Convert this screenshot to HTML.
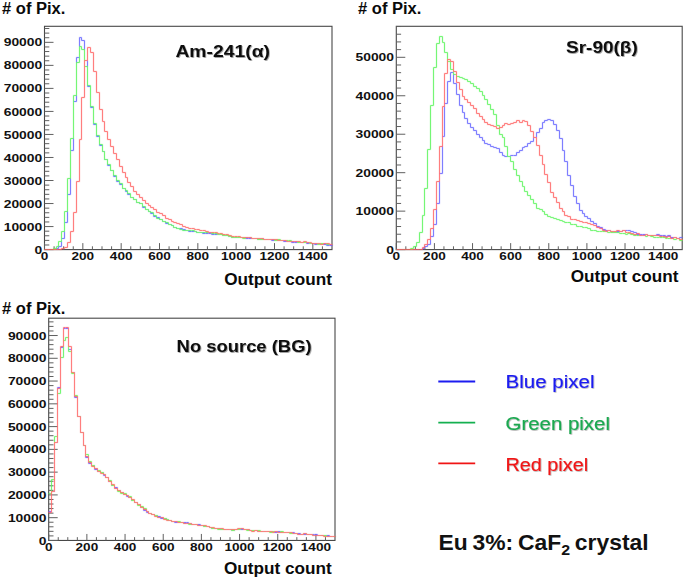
<!DOCTYPE html>
<html><head><meta charset="utf-8"><title>Eu 3%: CaF2 crystal</title>
<style>
html,body{margin:0;padding:0;background:#fff;}
body{width:685px;height:579px;overflow:hidden;position:relative;font-family:"Liberation Sans",sans-serif;}
svg{position:absolute;left:0;top:0;display:block}
.al{font:bold 11.6px "Liberation Sans",sans-serif;fill:#111}
.tt{font:bold 17.4px "Liberation Sans",sans-serif;fill:#111}
.yl{font:bold 16.8px "Liberation Sans",sans-serif;fill:#0a0a0a}
.lg{font:19.2px "Liberation Sans",sans-serif;stroke-width:.16px;paint-order:stroke}
.cap{font:bold 21.5px "Liberation Sans",sans-serif;fill:#111;word-spacing:-1.5px}
</style></head><body>
<svg width="685" height="579" viewBox="0 0 685 579">
<defs><filter id="sh" x="-5%" y="-20%" width="110%" height="150%"><feDropShadow dx="0.7" dy="0.7" stdDeviation="0.5" flood-color="#000" flood-opacity="0.35"/></filter><filter id="sh2" x="-5%" y="-20%" width="110%" height="150%"><feDropShadow dx="0.8" dy="0.9" stdDeviation="0.6" flood-color="#000" flood-opacity="0.4"/></filter><filter id="bl" filterUnits="userSpaceOnUse" x="0" y="0" width="685" height="579"><feConvolveMatrix order="3" kernelMatrix="1 9 1 9 81 9 1 9 1" divisor="121" edgeMode="none" preserveAlpha="false"/></filter></defs>
<rect width="685" height="579" fill="#fff"/>
<g><rect x="44.5" y="26.3" width="287.50" height="223.30" fill="none" stroke="#484848" stroke-width="1.1"/>
<path d="M44.50,249.6v-6.5M54.08,249.6v-3.3M63.67,249.6v-3.3M73.25,249.6v-3.3M82.83,249.6v-6.5M92.42,249.6v-3.3M102.00,249.6v-3.3M111.58,249.6v-3.3M121.17,249.6v-6.5M130.75,249.6v-3.3M140.33,249.6v-3.3M149.92,249.6v-3.3M159.50,249.6v-6.5M169.08,249.6v-3.3M178.67,249.6v-3.3M188.25,249.6v-3.3M197.83,249.6v-6.5M207.42,249.6v-3.3M217.00,249.6v-3.3M226.58,249.6v-3.3M236.17,249.6v-6.5M245.75,249.6v-3.3M255.33,249.6v-3.3M264.92,249.6v-3.3M274.50,249.6v-6.5M284.08,249.6v-3.3M293.67,249.6v-3.3M303.25,249.6v-3.3M312.83,249.6v-6.5M322.42,249.6v-3.3M44.5,249.60h9M44.5,244.99h4.8M44.5,240.39h4.8M44.5,235.78h4.8M44.5,231.18h4.8M44.5,226.57h9M44.5,221.96h4.8M44.5,217.36h4.8M44.5,212.75h4.8M44.5,208.15h4.8M44.5,203.54h9M44.5,198.93h4.8M44.5,194.33h4.8M44.5,189.72h4.8M44.5,185.12h4.8M44.5,180.51h9M44.5,175.90h4.8M44.5,171.30h4.8M44.5,166.69h4.8M44.5,162.09h4.8M44.5,157.48h9M44.5,152.87h4.8M44.5,148.27h4.8M44.5,143.66h4.8M44.5,139.06h4.8M44.5,134.45h9M44.5,129.84h4.8M44.5,125.24h4.8M44.5,120.63h4.8M44.5,116.03h4.8M44.5,111.42h9M44.5,106.81h4.8M44.5,102.21h4.8M44.5,97.60h4.8M44.5,93.00h4.8M44.5,88.39h9M44.5,83.78h4.8M44.5,79.18h4.8M44.5,74.57h4.8M44.5,69.97h4.8M44.5,65.36h9M44.5,60.75h4.8M44.5,56.15h4.8M44.5,51.54h4.8M44.5,46.94h4.8M44.5,42.33h9M44.5,37.72h4.8M44.5,33.12h4.8M44.5,28.51h4.8" fill="none" stroke="#606060" stroke-width="1"/>
<g filter="url(#bl)">
<path d="M44.5,249.5V249.5H47.5V249.5H50.5V249.5H53.5V249.5H56.5V248.5H58.5V246.5H61.5V238.5H64.5V222.5H67.5V194.5H70.5V150.5H73.5V101.5H76.5V57.5H79.5V37.5H81.5V40.5H84.5V60.5H87.5V86.5H90.5V107.5H93.5V124.5H96.5V136.5H99.5V145.5H102.5V151.5H104.5V159.5H107.5V165.5H110.5V170.5H113.5V176.5H116.5V181.5H119.5V184.5H122.5V188.5H125.5V191.5H127.5V194.5H130.5V197.5H133.5V199.5H136.5V202.5H139.5V203.5H142.5V207.5H145.5V209.5H148.5V211.5H150.5V213.5H153.5V216.5H156.5V217.5H159.5V219.5H162.5V221.5H165.5V223.5H168.5V224.5H171.5V225.5H173.5V227.5H176.5V228.5H179.5V228.5H182.5V229.5H185.5V230.5H188.5V231.5H191.5V231.5H194.5V231.5H196.5V232.5H199.5V232.5H202.5V233.5H205.5V233.5H208.5V233.5H211.5V234.5H214.5V234.5H217.5V234.5H219.5V234.5H222.5V235.5H225.5V235.5H228.5V236.5H231.5V237.5H234.5V237.5H237.5V237.5H240.5V237.5H242.5V237.5H245.5V238.5H248.5V238.5H251.5V238.5H254.5V238.5H257.5V239.5H260.5V238.5H263.5V239.5H265.5V239.5H268.5V239.5H271.5V240.5H274.5V239.5H277.5V240.5H280.5V240.5H283.5V241.5H286.5V241.5H288.5V241.5H291.5V242.5H294.5V242.5H297.5V242.5H300.5V242.5H303.5V242.5H306.5V243.5H309.5V243.5H311.5V243.5H314.5V244.5H317.5V244.5H320.5V244.5H323.5V244.5H326.5V245.5H329.5V245.5H332.5" fill="none" stroke="#6060ff" stroke-width="1" stroke-linejoin="miter"/>
<path d="M44.5,249.5V249.5H47.5V249.5H50.5V249.5H53.5V248.5H56.5V246.5H58.5V241.5H61.5V231.5H64.5V211.5H67.5V178.5H70.5V138.5H73.5V95.5H76.5V62.5H79.5V46.5H81.5V49.5H84.5V66.5H87.5V85.5H90.5V106.5H93.5V123.5H96.5V135.5H99.5V144.5H102.5V151.5H104.5V159.5H107.5V164.5H110.5V170.5H113.5V175.5H116.5V180.5H119.5V183.5H122.5V188.5H125.5V190.5H127.5V193.5H130.5V197.5H133.5V199.5H136.5V202.5H139.5V203.5H142.5V206.5H145.5V209.5H148.5V211.5H150.5V212.5H153.5V215.5H156.5V218.5H159.5V219.5H162.5V221.5H165.5V222.5H168.5V224.5H171.5V225.5H173.5V227.5H176.5V228.5H179.5V229.5H182.5V230.5H185.5V230.5H188.5V230.5H191.5V230.5H194.5V231.5H196.5V232.5H199.5V232.5H202.5V232.5H205.5V232.5H208.5V232.5H211.5V233.5H214.5V233.5H217.5V234.5H219.5V234.5H222.5V235.5H225.5V235.5H228.5V236.5H231.5V237.5H234.5V237.5H237.5V237.5H240.5V237.5H242.5V238.5H245.5V237.5H248.5V237.5H251.5V238.5H254.5V238.5H257.5V239.5H260.5V239.5H263.5V239.5H265.5V239.5H268.5V239.5H271.5V239.5H274.5V240.5H277.5V239.5H280.5V240.5H283.5V240.5H286.5V240.5H288.5V240.5H291.5V241.5H294.5V241.5H297.5V242.5H300.5V242.5H303.5V242.5H306.5V242.5H309.5V243.5H311.5V243.5H314.5V243.5H317.5V244.5H320.5V243.5H323.5V243.5H326.5V244.5H329.5V244.5H332.5" fill="none" stroke="#58f458" stroke-width="1" stroke-linejoin="miter"/>
<path d="M44.5,249.5V249.5H47.5V249.5H50.5V249.5H53.5V249.5H56.5V249.5H58.5V249.5H61.5V248.5H64.5V247.5H67.5V242.5H70.5V231.5H73.5V212.5H76.5V181.5H79.5V139.5H81.5V97.5H84.5V60.5H87.5V47.5H90.5V52.5H93.5V71.5H96.5V92.5H99.5V109.5H102.5V121.5H104.5V131.5H107.5V139.5H110.5V146.5H113.5V153.5H116.5V159.5H119.5V166.5H122.5V172.5H125.5V177.5H127.5V182.5H130.5V186.5H133.5V191.5H136.5V194.5H139.5V197.5H142.5V200.5H145.5V203.5H148.5V205.5H150.5V207.5H153.5V209.5H156.5V212.5H159.5V213.5H162.5V215.5H165.5V218.5H168.5V219.5H171.5V221.5H173.5V222.5H176.5V223.5H179.5V224.5H182.5V226.5H185.5V227.5H188.5V228.5H191.5V228.5H194.5V229.5H196.5V229.5H199.5V230.5H202.5V230.5H205.5V231.5H208.5V232.5H211.5V232.5H214.5V232.5H217.5V233.5H219.5V233.5H222.5V234.5H225.5V234.5H228.5V235.5H231.5V236.5H234.5V236.5H237.5V236.5H240.5V237.5H242.5V237.5H245.5V237.5H248.5V237.5H251.5V238.5H254.5V238.5H257.5V238.5H260.5V238.5H263.5V239.5H265.5V239.5H268.5V239.5H271.5V239.5H274.5V239.5H277.5V240.5H280.5V240.5H283.5V240.5H286.5V241.5H288.5V241.5H291.5V241.5H294.5V241.5H297.5V241.5H300.5V242.5H303.5V241.5H306.5V242.5H309.5V242.5H311.5V243.5H314.5V243.5H317.5V243.5H320.5V244.5H323.5V243.5H326.5V243.5H329.5V244.5H332.5" fill="none" stroke="#ff6060" stroke-width="1" stroke-linejoin="miter"/>
</g>
<text class="al" transform="translate(44.50,260.20) scale(1.17,1)" text-anchor="middle">0</text>
<text class="al" transform="translate(82.83,260.20) scale(1.17,1)" text-anchor="middle">200</text>
<text class="al" transform="translate(121.17,260.20) scale(1.17,1)" text-anchor="middle">400</text>
<text class="al" transform="translate(159.50,260.20) scale(1.17,1)" text-anchor="middle">600</text>
<text class="al" transform="translate(197.83,260.20) scale(1.17,1)" text-anchor="middle">800</text>
<text class="al" transform="translate(236.17,260.20) scale(1.17,1)" text-anchor="middle">1000</text>
<text class="al" transform="translate(274.50,260.20) scale(1.17,1)" text-anchor="middle">1200</text>
<text class="al" transform="translate(312.83,260.20) scale(1.17,1)" text-anchor="middle">1400</text>
<text class="al" transform="translate(42.20,253.70) scale(1.195,1)" text-anchor="end">0</text>
<text class="al" transform="translate(42.20,230.67) scale(1.195,1)" text-anchor="end">10000</text>
<text class="al" transform="translate(42.20,207.64) scale(1.195,1)" text-anchor="end">20000</text>
<text class="al" transform="translate(42.20,184.61) scale(1.195,1)" text-anchor="end">30000</text>
<text class="al" transform="translate(42.20,161.58) scale(1.195,1)" text-anchor="end">40000</text>
<text class="al" transform="translate(42.20,138.55) scale(1.195,1)" text-anchor="end">50000</text>
<text class="al" transform="translate(42.20,115.52) scale(1.195,1)" text-anchor="end">60000</text>
<text class="al" transform="translate(42.20,92.49) scale(1.195,1)" text-anchor="end">70000</text>
<text class="al" transform="translate(42.20,69.46) scale(1.195,1)" text-anchor="end">80000</text>
<text class="al" transform="translate(42.20,46.43) scale(1.195,1)" text-anchor="end">90000</text>
<text class="tt" x="175.4" y="57.4" textLength="94.6" lengthAdjust="spacingAndGlyphs" filter="url(#sh2)">Am-241(α)</text>
<text class="yl" x="2" y="14.4" textLength="63.4" lengthAdjust="spacingAndGlyphs"># of Pix.</text>
<text class="yl" x="224.2" y="285.1" textLength="107.8" lengthAdjust="spacingAndGlyphs">Output count</text></g>
<g><rect x="396.3" y="26.3" width="285.90" height="223.30" fill="none" stroke="#484848" stroke-width="1.1"/>
<path d="M396.30,249.6v-6.5M405.83,249.6v-3.3M415.36,249.6v-3.3M424.89,249.6v-3.3M434.42,249.6v-6.5M443.95,249.6v-3.3M453.48,249.6v-3.3M463.01,249.6v-3.3M472.54,249.6v-6.5M482.07,249.6v-3.3M491.60,249.6v-3.3M501.13,249.6v-3.3M510.66,249.6v-6.5M520.19,249.6v-3.3M529.72,249.6v-3.3M539.25,249.6v-3.3M548.78,249.6v-6.5M558.31,249.6v-3.3M567.84,249.6v-3.3M577.37,249.6v-3.3M586.90,249.6v-6.5M596.43,249.6v-3.3M605.96,249.6v-3.3M615.49,249.6v-3.3M625.02,249.6v-6.5M634.55,249.6v-3.3M644.08,249.6v-3.3M653.61,249.6v-3.3M663.14,249.6v-6.5M672.67,249.6v-3.3M396.3,249.60h9M396.3,241.91h4.8M396.3,234.22h4.8M396.3,226.52h4.8M396.3,218.83h4.8M396.3,211.14h9M396.3,203.45h4.8M396.3,195.76h4.8M396.3,188.06h4.8M396.3,180.37h4.8M396.3,172.68h9M396.3,164.99h4.8M396.3,157.30h4.8M396.3,149.60h4.8M396.3,141.91h4.8M396.3,134.22h9M396.3,126.53h4.8M396.3,118.84h4.8M396.3,111.14h4.8M396.3,103.45h4.8M396.3,95.76h9M396.3,88.07h4.8M396.3,80.38h4.8M396.3,72.68h4.8M396.3,64.99h4.8M396.3,57.30h9M396.3,49.61h4.8M396.3,41.92h4.8M396.3,34.22h4.8M396.3,26.53h4.8" fill="none" stroke="#606060" stroke-width="1"/>
<g filter="url(#bl)">
<path d="M396.5,249.5V249.5H399.5V249.5H402.5V249.5H404.5V249.5H407.5V249.5H410.5V249.5H413.5V249.5H416.5V249.5H419.5V249.5H422.5V248.5H424.5V246.5H427.5V244.5H430.5V236.5H433.5V224.5H436.5V203.5H439.5V173.5H442.5V136.5H444.5V103.5H447.5V81.5H450.5V72.5H453.5V83.5H456.5V94.5H459.5V105.5H462.5V112.5H464.5V118.5H467.5V123.5H470.5V127.5H473.5V130.5H476.5V134.5H479.5V137.5H482.5V140.5H484.5V143.5H487.5V144.5H490.5V146.5H493.5V147.5H496.5V148.5H499.5V152.5H502.5V155.5H504.5V156.5H507.5V156.5H510.5V155.5H513.5V155.5H516.5V152.5H519.5V150.5H522.5V147.5H524.5V146.5H527.5V143.5H530.5V141.5H533.5V137.5H536.5V132.5H539.5V128.5H542.5V122.5H544.5V120.5H547.5V119.5H550.5V120.5H553.5V124.5H556.5V130.5H559.5V138.5H562.5V150.5H564.5V161.5H567.5V175.5H570.5V185.5H573.5V196.5H576.5V203.5H579.5V210.5H582.5V213.5H584.5V216.5H587.5V218.5H590.5V221.5H593.5V223.5H596.5V226.5H599.5V227.5H602.5V229.5H605.5V230.5H607.5V230.5H610.5V231.5H613.5V232.5H616.5V231.5H619.5V231.5H622.5V230.5H625.5V230.5H627.5V230.5H630.5V231.5H633.5V232.5H636.5V234.5H639.5V234.5H642.5V234.5H645.5V234.5H647.5V235.5H650.5V235.5H653.5V235.5H656.5V234.5H659.5V235.5H662.5V235.5H665.5V236.5H667.5V235.5H670.5V237.5H673.5V237.5H676.5V238.5H679.5V237.5H682.5" fill="none" stroke="#6060ff" stroke-width="1" stroke-linejoin="miter"/>
<path d="M396.5,249.5V249.5H399.5V249.5H402.5V249.5H404.5V249.5H407.5V249.5H410.5V248.5H413.5V246.5H416.5V242.5H419.5V232.5H422.5V215.5H424.5V188.5H427.5V149.5H430.5V105.5H433.5V67.5H436.5V43.5H439.5V36.5H442.5V42.5H444.5V52.5H447.5V61.5H450.5V69.5H453.5V74.5H456.5V76.5H459.5V77.5H462.5V78.5H464.5V79.5H467.5V81.5H470.5V83.5H473.5V86.5H476.5V88.5H479.5V91.5H482.5V95.5H484.5V99.5H487.5V104.5H490.5V109.5H493.5V114.5H496.5V125.5H499.5V134.5H502.5V137.5H504.5V146.5H507.5V156.5H510.5V161.5H513.5V169.5H516.5V175.5H519.5V181.5H522.5V186.5H524.5V191.5H527.5V195.5H530.5V199.5H533.5V203.5H536.5V208.5H539.5V209.5H542.5V211.5H544.5V214.5H547.5V216.5H550.5V217.5H553.5V218.5H556.5V219.5H559.5V220.5H562.5V221.5H564.5V222.5H567.5V222.5H570.5V224.5H573.5V224.5H576.5V226.5H579.5V226.5H582.5V227.5H584.5V227.5H587.5V228.5H590.5V230.5H593.5V230.5H596.5V231.5H599.5V231.5H602.5V231.5H605.5V231.5H607.5V232.5H610.5V232.5H613.5V232.5H616.5V232.5H619.5V233.5H622.5V233.5H625.5V234.5H627.5V233.5H630.5V234.5H633.5V235.5H636.5V235.5H639.5V235.5H642.5V235.5H645.5V236.5H647.5V235.5H650.5V236.5H653.5V237.5H656.5V237.5H659.5V237.5H662.5V237.5H665.5V238.5H667.5V238.5H670.5V238.5H673.5V239.5H676.5V238.5H679.5V240.5H682.5" fill="none" stroke="#58f458" stroke-width="1" stroke-linejoin="miter"/>
<path d="M396.5,249.5V249.5H399.5V249.5H402.5V249.5H404.5V249.5H407.5V249.5H410.5V249.5H413.5V249.5H416.5V249.5H419.5V249.5H422.5V247.5H424.5V244.5H427.5V239.5H430.5V228.5H433.5V209.5H436.5V181.5H439.5V146.5H442.5V106.5H444.5V73.5H447.5V59.5H450.5V61.5H453.5V71.5H456.5V82.5H459.5V89.5H462.5V96.5H464.5V99.5H467.5V102.5H470.5V105.5H473.5V108.5H476.5V113.5H479.5V116.5H482.5V119.5H484.5V122.5H487.5V124.5H490.5V125.5H493.5V126.5H496.5V128.5H499.5V127.5H502.5V125.5H504.5V123.5H507.5V124.5H510.5V123.5H513.5V122.5H516.5V120.5H519.5V122.5H522.5V120.5H524.5V121.5H527.5V125.5H530.5V131.5H533.5V137.5H536.5V145.5H539.5V155.5H542.5V164.5H544.5V174.5H547.5V182.5H550.5V192.5H553.5V197.5H556.5V202.5H559.5V208.5H562.5V211.5H564.5V215.5H567.5V216.5H570.5V219.5H573.5V219.5H576.5V220.5H579.5V221.5H582.5V222.5H584.5V222.5H587.5V223.5H590.5V224.5H593.5V225.5H596.5V227.5H599.5V228.5H602.5V230.5H605.5V231.5H607.5V230.5H610.5V231.5H613.5V231.5H616.5V230.5H619.5V231.5H622.5V230.5H625.5V232.5H627.5V232.5H630.5V233.5H633.5V234.5H636.5V233.5H639.5V235.5H642.5V235.5H645.5V234.5H647.5V235.5H650.5V235.5H653.5V235.5H656.5V235.5H659.5V236.5H662.5V236.5H665.5V237.5H667.5V236.5H670.5V238.5H673.5V237.5H676.5V238.5H679.5V239.5H682.5" fill="none" stroke="#ff6060" stroke-width="1" stroke-linejoin="miter"/>
</g>
<text class="al" transform="translate(396.30,260.20) scale(1.17,1)" text-anchor="middle">0</text>
<text class="al" transform="translate(434.42,260.20) scale(1.17,1)" text-anchor="middle">200</text>
<text class="al" transform="translate(472.54,260.20) scale(1.17,1)" text-anchor="middle">400</text>
<text class="al" transform="translate(510.66,260.20) scale(1.17,1)" text-anchor="middle">600</text>
<text class="al" transform="translate(548.78,260.20) scale(1.17,1)" text-anchor="middle">800</text>
<text class="al" transform="translate(586.90,260.20) scale(1.17,1)" text-anchor="middle">1000</text>
<text class="al" transform="translate(625.02,260.20) scale(1.17,1)" text-anchor="middle">1200</text>
<text class="al" transform="translate(663.14,260.20) scale(1.17,1)" text-anchor="middle">1400</text>
<text class="al" transform="translate(394.00,253.70) scale(1.195,1)" text-anchor="end">0</text>
<text class="al" transform="translate(394.00,215.24) scale(1.195,1)" text-anchor="end">10000</text>
<text class="al" transform="translate(394.00,176.78) scale(1.195,1)" text-anchor="end">20000</text>
<text class="al" transform="translate(394.00,138.32) scale(1.195,1)" text-anchor="end">30000</text>
<text class="al" transform="translate(394.00,99.86) scale(1.195,1)" text-anchor="end">40000</text>
<text class="al" transform="translate(394.00,61.40) scale(1.195,1)" text-anchor="end">50000</text>
<text class="tt" x="566.0" y="53.0" textLength="71.8" lengthAdjust="spacingAndGlyphs" filter="url(#sh2)">Sr-90(β)</text>
<text class="yl" x="358" y="14.2" textLength="63.4" lengthAdjust="spacingAndGlyphs"># of Pix.</text>
<text class="yl" x="570.7" y="282.2" textLength="107.8" lengthAdjust="spacingAndGlyphs">Output count</text></g>
<g><rect x="48.7" y="318.2" width="286.30" height="222.25" fill="none" stroke="#484848" stroke-width="1.1"/>
<path d="M48.70,540.45v-6.5M58.24,540.45v-3.3M67.79,540.45v-3.3M77.33,540.45v-3.3M86.87,540.45v-6.5M96.42,540.45v-3.3M105.96,540.45v-3.3M115.50,540.45v-3.3M125.05,540.45v-6.5M134.59,540.45v-3.3M144.13,540.45v-3.3M153.68,540.45v-3.3M163.22,540.45v-6.5M172.76,540.45v-3.3M182.31,540.45v-3.3M191.85,540.45v-3.3M201.39,540.45v-6.5M210.94,540.45v-3.3M220.48,540.45v-3.3M230.02,540.45v-3.3M239.57,540.45v-6.5M249.11,540.45v-3.3M258.65,540.45v-3.3M268.20,540.45v-3.3M277.74,540.45v-6.5M287.28,540.45v-3.3M296.83,540.45v-3.3M306.37,540.45v-3.3M315.91,540.45v-6.5M325.46,540.45v-3.3M48.7,540.45h9M48.7,535.90h4.8M48.7,531.34h4.8M48.7,526.79h4.8M48.7,522.23h4.8M48.7,517.68h9M48.7,513.13h4.8M48.7,508.57h4.8M48.7,504.02h4.8M48.7,499.46h4.8M48.7,494.91h9M48.7,490.36h4.8M48.7,485.80h4.8M48.7,481.25h4.8M48.7,476.69h4.8M48.7,472.14h9M48.7,467.59h4.8M48.7,463.03h4.8M48.7,458.48h4.8M48.7,453.92h4.8M48.7,449.37h9M48.7,444.82h4.8M48.7,440.26h4.8M48.7,435.71h4.8M48.7,431.15h4.8M48.7,426.60h9M48.7,422.05h4.8M48.7,417.49h4.8M48.7,412.94h4.8M48.7,408.38h4.8M48.7,403.83h9M48.7,399.28h4.8M48.7,394.72h4.8M48.7,390.17h4.8M48.7,385.61h4.8M48.7,381.06h9M48.7,376.51h4.8M48.7,371.95h4.8M48.7,367.40h4.8M48.7,362.84h4.8M48.7,358.29h9M48.7,353.74h4.8M48.7,349.18h4.8M48.7,344.63h4.8M48.7,340.07h4.8M48.7,335.52h9M48.7,330.97h4.8M48.7,326.41h4.8M48.7,321.86h4.8" fill="none" stroke="#606060" stroke-width="1"/>
<g filter="url(#bl)">
<path d="M48.5,511.5V511.5H51.5V491.5H54.5V442.5H57.5V387.5H60.5V347.5H63.5V328.5H65.5V328.5H68.5V349.5H71.5V372.5H74.5V397.5H77.5V416.5H80.5V432.5H83.5V445.5H85.5V457.5H88.5V463.5H91.5V465.5H94.5V469.5H97.5V471.5H100.5V472.5H103.5V475.5H105.5V477.5H108.5V481.5H111.5V485.5H114.5V487.5H117.5V490.5H120.5V492.5H123.5V494.5H126.5V496.5H128.5V497.5H131.5V500.5H134.5V502.5H137.5V504.5H140.5V507.5H143.5V510.5H146.5V512.5H148.5V513.5H151.5V514.5H154.5V515.5H157.5V516.5H160.5V518.5H163.5V518.5H166.5V519.5H168.5V520.5H171.5V521.5H174.5V522.5H177.5V522.5H180.5V522.5H183.5V522.5H186.5V522.5H188.5V523.5H191.5V524.5H194.5V524.5H197.5V524.5H200.5V525.5H203.5V526.5H206.5V526.5H209.5V527.5H211.5V528.5H214.5V528.5H217.5V528.5H220.5V529.5H223.5V529.5H226.5V529.5H229.5V529.5H231.5V530.5H234.5V529.5H237.5V529.5H240.5V529.5H243.5V529.5H246.5V529.5H249.5V530.5H251.5V530.5H254.5V530.5H257.5V531.5H260.5V531.5H263.5V531.5H266.5V531.5H269.5V531.5H272.5V531.5H274.5V532.5H277.5V531.5H280.5V532.5H283.5V532.5H286.5V532.5H289.5V532.5H292.5V532.5H294.5V533.5H297.5V533.5H300.5V534.5H303.5V534.5H306.5V534.5H309.5V534.5H312.5V534.5H314.5V534.5H317.5V535.5H320.5V535.5H323.5V535.5H326.5V535.5H329.5V536.5H332.5V536.5H335.5" fill="none" stroke="#6060ff" stroke-width="1" stroke-linejoin="miter"/>
<path d="M48.5,493.5V493.5H51.5V479.5H54.5V436.5H57.5V393.5H60.5V357.5H63.5V340.5H65.5V337.5H68.5V351.5H71.5V373.5H74.5V395.5H77.5V416.5H80.5V432.5H83.5V445.5H85.5V454.5H88.5V461.5H91.5V465.5H94.5V468.5H97.5V470.5H100.5V472.5H103.5V474.5H105.5V477.5H108.5V480.5H111.5V485.5H114.5V488.5H117.5V491.5H120.5V493.5H123.5V493.5H126.5V495.5H128.5V496.5H131.5V500.5H134.5V502.5H137.5V505.5H140.5V506.5H143.5V508.5H146.5V511.5H148.5V513.5H151.5V514.5H154.5V515.5H157.5V517.5H160.5V517.5H163.5V518.5H166.5V519.5H168.5V520.5H171.5V521.5H174.5V521.5H177.5V521.5H180.5V522.5H183.5V523.5H186.5V523.5H188.5V524.5H191.5V524.5H194.5V524.5H197.5V525.5H200.5V525.5H203.5V526.5H206.5V526.5H209.5V527.5H211.5V528.5H214.5V528.5H217.5V529.5H220.5V529.5H223.5V529.5H226.5V529.5H229.5V529.5H231.5V530.5H234.5V529.5H237.5V529.5H240.5V528.5H243.5V529.5H246.5V530.5H249.5V530.5H251.5V530.5H254.5V530.5H257.5V530.5H260.5V531.5H263.5V531.5H266.5V531.5H269.5V532.5H272.5V531.5H274.5V531.5H277.5V532.5H280.5V531.5H283.5V532.5H286.5V532.5H289.5V533.5H292.5V533.5H294.5V533.5H297.5V534.5H300.5V534.5H303.5V533.5H306.5V534.5H309.5V534.5H312.5V535.5H314.5V535.5H317.5V535.5H320.5V535.5H323.5V535.5H326.5V536.5H329.5V536.5H332.5V536.5H335.5" fill="none" stroke="#58f458" stroke-width="1" stroke-linejoin="miter"/>
<path d="M48.5,512.5V512.5H51.5V491.5H54.5V442.5H57.5V388.5H60.5V346.5H63.5V327.5H65.5V327.5H68.5V346.5H71.5V372.5H74.5V396.5H77.5V416.5H80.5V432.5H83.5V445.5H85.5V456.5H88.5V462.5H91.5V466.5H94.5V468.5H97.5V471.5H100.5V473.5H103.5V474.5H105.5V477.5H108.5V481.5H111.5V484.5H114.5V488.5H117.5V490.5H120.5V492.5H123.5V494.5H126.5V495.5H128.5V497.5H131.5V499.5H134.5V502.5H137.5V504.5H140.5V507.5H143.5V509.5H146.5V511.5H148.5V513.5H151.5V514.5H154.5V516.5H157.5V517.5H160.5V517.5H163.5V519.5H166.5V520.5H168.5V520.5H171.5V521.5H174.5V521.5H177.5V522.5H180.5V522.5H183.5V523.5H186.5V523.5H188.5V523.5H191.5V524.5H194.5V524.5H197.5V525.5H200.5V525.5H203.5V525.5H206.5V526.5H209.5V527.5H211.5V527.5H214.5V528.5H217.5V528.5H220.5V528.5H223.5V529.5H226.5V529.5H229.5V529.5H231.5V529.5H234.5V529.5H237.5V528.5H240.5V528.5H243.5V529.5H246.5V529.5H249.5V530.5H251.5V531.5H254.5V530.5H257.5V531.5H260.5V531.5H263.5V531.5H266.5V531.5H269.5V531.5H272.5V532.5H274.5V531.5H277.5V532.5H280.5V532.5H283.5V532.5H286.5V532.5H289.5V532.5H292.5V533.5H294.5V533.5H297.5V534.5H300.5V534.5H303.5V533.5H306.5V534.5H309.5V534.5H312.5V535.5H314.5V535.5H317.5V535.5H320.5V535.5H323.5V536.5H326.5V536.5H329.5V536.5H332.5V536.5H335.5" fill="none" stroke="#ff6060" stroke-width="1" stroke-linejoin="miter"/>
</g>
<text class="al" transform="translate(48.70,551.05) scale(1.17,1)" text-anchor="middle">0</text>
<text class="al" transform="translate(86.87,551.05) scale(1.17,1)" text-anchor="middle">200</text>
<text class="al" transform="translate(125.05,551.05) scale(1.17,1)" text-anchor="middle">400</text>
<text class="al" transform="translate(163.22,551.05) scale(1.17,1)" text-anchor="middle">600</text>
<text class="al" transform="translate(201.39,551.05) scale(1.17,1)" text-anchor="middle">800</text>
<text class="al" transform="translate(239.57,551.05) scale(1.17,1)" text-anchor="middle">1000</text>
<text class="al" transform="translate(277.74,551.05) scale(1.17,1)" text-anchor="middle">1200</text>
<text class="al" transform="translate(315.91,551.05) scale(1.17,1)" text-anchor="middle">1400</text>
<text class="al" transform="translate(46.40,544.55) scale(1.195,1)" text-anchor="end">0</text>
<text class="al" transform="translate(46.40,521.78) scale(1.195,1)" text-anchor="end">10000</text>
<text class="al" transform="translate(46.40,499.01) scale(1.195,1)" text-anchor="end">20000</text>
<text class="al" transform="translate(46.40,476.24) scale(1.195,1)" text-anchor="end">30000</text>
<text class="al" transform="translate(46.40,453.47) scale(1.195,1)" text-anchor="end">40000</text>
<text class="al" transform="translate(46.40,430.70) scale(1.195,1)" text-anchor="end">50000</text>
<text class="al" transform="translate(46.40,407.93) scale(1.195,1)" text-anchor="end">60000</text>
<text class="al" transform="translate(46.40,385.16) scale(1.195,1)" text-anchor="end">70000</text>
<text class="al" transform="translate(46.40,362.39) scale(1.195,1)" text-anchor="end">80000</text>
<text class="al" transform="translate(46.40,339.62) scale(1.195,1)" text-anchor="end">90000</text>
<text class="tt" x="176.6" y="351.8" textLength="135" lengthAdjust="spacingAndGlyphs" filter="url(#sh2)">No source (BG)</text>
<text class="yl" x="2" y="313.6" textLength="63.4" lengthAdjust="spacingAndGlyphs"># of Pix.</text>
<text class="yl" x="224.0" y="574.0" textLength="107.8" lengthAdjust="spacingAndGlyphs">Output count</text></g>
<g>
<path d="M438.3,381.5H475.2" stroke="#1c1cf0" stroke-width="1.8"/>
<path d="M438.3,422.6H475.2" stroke="#14b050" stroke-width="1.8"/>
<path d="M438.3,463.4H475.2" stroke="#f01414" stroke-width="1.8"/>
<text class="lg" x="505.5" y="388.3" fill="#1c1cf0" stroke="#1c1cf0" filter="url(#sh)" textLength="89" lengthAdjust="spacingAndGlyphs">Blue pixel</text>
<text class="lg" x="505.5" y="430" fill="#1aa850" stroke="#1aa850" filter="url(#sh)" textLength="104.5" lengthAdjust="spacingAndGlyphs">Green pixel</text>
<text class="lg" x="505.5" y="470.8" fill="#f01414" stroke="#f01414" filter="url(#sh)" textLength="82.6" lengthAdjust="spacingAndGlyphs">Red pixel</text>
<text class="cap" x="438.6" y="550" textLength="210" lengthAdjust="spacingAndGlyphs">Eu 3%: CaF<tspan font-size="15" dy="4.8">2</tspan><tspan dy="-4.8"> crystal</tspan></text>
</g>
</svg>
</body></html>
